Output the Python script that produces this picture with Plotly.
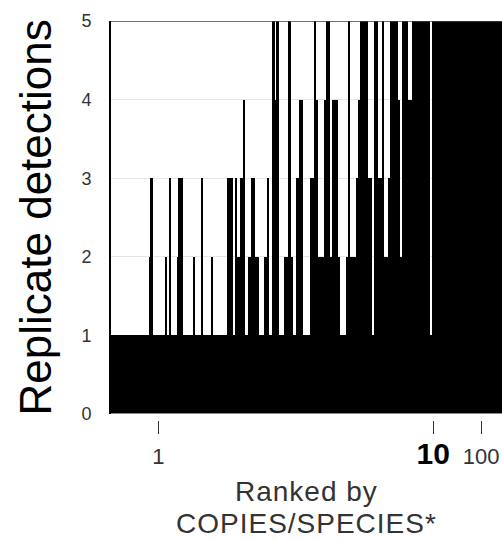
import plotly.graph_objects as go

# Replicate detections per species, species ranked by copies/species
detections = [
    1, 1, 1, 1, 1, 1, 1, 1, 1, 1,
    1, 1, 1, 1, 1, 1, 1, 1, 1, 2,
    3, 1, 1, 1, 1, 1, 1, 2, 1, 3,
    1, 1, 1, 2, 3, 3, 1, 1, 1, 1,
    1, 2, 1, 1, 1, 3, 1, 1, 1, 1,
    2, 1, 1, 1, 1, 1, 1, 1, 3, 3,
    3, 1, 3, 2, 2, 3, 4, 1, 1, 2,
    3, 3, 2, 2, 1, 1, 1, 2, 3, 1,
    1, 5, 4, 5, 1, 1, 1, 2, 2, 5,
    2, 1, 1, 3, 4, 4, 1, 1, 1, 1,
    3, 3, 5, 4, 2, 2, 2, 4, 5, 5,
    2, 4, 4, 4, 2, 1, 1, 1, 2, 5,
    2, 2, 2, 3, 4, 5, 5, 5, 5, 3,
    3, 1, 5, 5, 3, 3, 5, 2, 2, 3,
    5, 5, 5, 5, 4, 2, 5, 5, 5, 4,
    4, 5, 5, 5, 5, 5, 5, 5, 5, 5,
    1, 5, 5, 5, 5, 5, 5, 5, 5, 5,
    5, 5, 5, 5, 5, 5, 5, 5, 5, 5,
    5, 5, 5, 5, 5, 5, 5, 5, 5, 5,
    5, 5, 5, 5, 5, 5,
]
species_rank = list(range(1, len(detections) + 1))

# rank positions where copies/species reaches 1, 10, 100
x_tick_pos = [24.2, 162, 186]
x_tick_text = ["1", "<b><span style='font-size:30px;fill:#000'>10</span></b>", "100"]
y_tick_vals = [0, 1, 2, 3, 4, 5]

fig = go.Figure(
    go.Bar(
        x=species_rank,
        y=detections,
        width=1.0,
        marker=dict(color="black", line=dict(width=0)),
        hoverinfo="x+y",
    )
)

plot_h = 540 - 21 - 120
fig.update_layout(
    width=502,
    height=540,
    margin=dict(l=111, r=0, t=21, b=120, autoexpand=False),
    plot_bgcolor="white",
    paper_bgcolor="white",
    showlegend=False,
    bargap=0,
    font=dict(family="Arial, Liberation Sans, sans-serif", color="#333"),
    xaxis=dict(
        range=[0.5, len(detections) + 0.5],
        tickmode="array",
        tickvals=x_tick_pos,
        ticktext=x_tick_text,
        ticks="outside",
        ticklen=13,
        tickwidth=1,
        tickcolor="#333",
        tickfont=dict(size=22, color="#333"),
        ticklabelstandoff=4,
        showgrid=False,
        zeroline=False,
        showline=False,
        anchor="free",
        position=0,
        automargin=False,
    ),
    yaxis=dict(
        domain=[6 / plot_h, 1],
        range=[0, 5],
        tickmode="array",
        tickvals=y_tick_vals,
        ticks="outside",
        ticklen=14,
        tickcolor="rgba(0,0,0,0)",
        tickfont=dict(size=18, color="#333"),
        showgrid=True,
        gridcolor="#e6e6e6",
        gridwidth=1,
        zeroline=False,
        showline=True,
        linecolor="black",
        linewidth=2,
        automargin=False,
    ),
    shapes=[
        dict(type="line", xref="paper", yref="y", x0=0, x1=1, y0=5, y1=5,
             line=dict(color="#444", width=1.5), layer="above"),
        dict(type="line", xref="paper", yref="y", x0=0, x1=1, y0=0, y1=0,
             line=dict(color="#888", width=2), layer="above"),
    ],
    annotations=[
        dict(text="Replicate detections", xref="paper", yref="y", x=0, y=2.5,
             xshift=-76, xanchor="center", yanchor="middle", textangle=-90,
             showarrow=False, font=dict(size=44, color="black")),
        dict(text="<span style='letter-spacing:1px'>Ranked by</span>",
             xref="paper", yref="y", x=0.5, y=0,
             yshift=-77, xanchor="center", yanchor="middle", showarrow=False,
             font=dict(size=28, color="#333")),
        dict(text="<span style='letter-spacing:1px'>COPIES/SPECIES*</span>",
             xref="paper", yref="y", x=0.5, y=0,
             yshift=-109, xanchor="center", yanchor="middle", showarrow=False,
             font=dict(size=28, color="#333")),
    ],
)

fig.write_html(
    "out.html",
    config={"displayModeBar": False},
    post_script="document.body.style.margin='0';document.body.style.overflow='hidden';",
)
